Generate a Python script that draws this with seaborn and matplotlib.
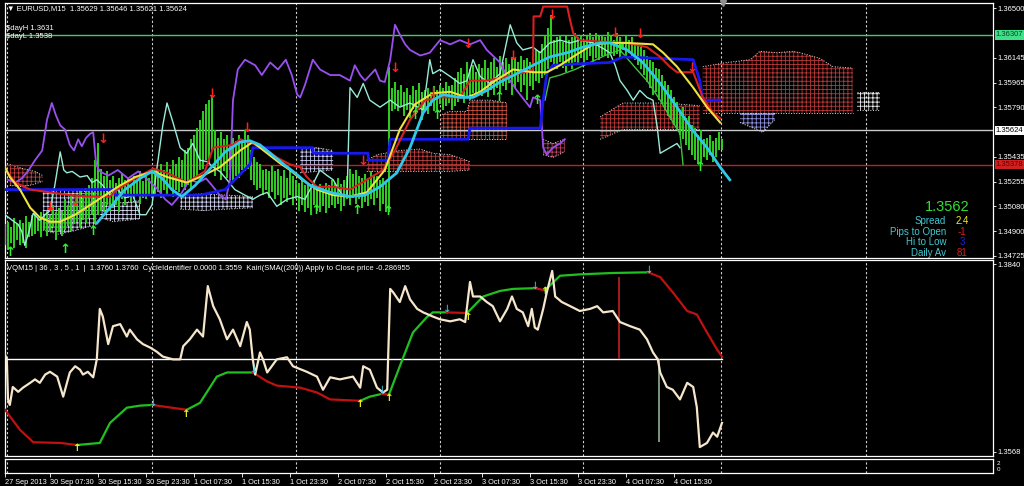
import numpy as np
import matplotlib
matplotlib.use("Agg")
import matplotlib.pyplot as plt
import seaborn as sns

W, H = 1024, 486

# x axis = hours since 30 Sep 2013 00:00 (M15 chart, one bar every 15 min)
tick_hours = [0, 7.5, 15.5, 23.5, 31.5, 39.5, 47.5, 55.5, 63.5, 71.5, 79.5, 87.5, 95.5, 103.5, 111.5]
tick_labels = ['27 Sep 2013', '30 Sep 07:30', '30 Sep 15:30', '30 Sep 23:30', '1 Oct 07:30',
               '1 Oct 15:30', '1 Oct 23:30', '2 Oct 07:30', '2 Oct 15:30', '2 Oct 23:30',
               '3 Oct 07:30', '3 Oct 15:30', '3 Oct 23:30', '4 Oct 07:30', '4 Oct 15:30']
grid_hours = [0.3, 24.5, 48.5, 72.5, 96.3, 119.3, 143.5]

# ---------------- main window: EURUSD price bars (every 2nd bar) ----------------
bar_hours = np.arange(240) * 0.5
bar_low = [1.3480, 1.3477, 1.3482, 1.3478, 1.3484, 1.3480, 1.3482, 1.3478, 1.3486, 1.3487,
           1.3488, 1.3490, 1.3486, 1.3491, 1.3487, 1.3490, 1.3493, 1.3484, 1.3490, 1.3487,
           1.3491, 1.3494, 1.3490, 1.3495, 1.3497, 1.3493, 1.3498, 1.3496, 1.3500, 1.3502,
           1.3495, 1.3502, 1.3505, 1.3504, 1.3509, 1.3505, 1.3507, 1.3509, 1.3504, 1.3513,
           1.3509, 1.3514, 1.3511, 1.3513, 1.3516, 1.3510, 1.3514, 1.3513, 1.3516, 1.3514,
           1.3516, 1.3518, 1.3514, 1.3520, 1.3517, 1.3521, 1.3515, 1.3520, 1.3518, 1.3522,
           1.3520, 1.3523, 1.3521, 1.3527, 1.3530, 1.3534, 1.3535, 1.3541, 1.3538, 1.3548,
           1.3530, 1.3535, 1.3527, 1.3533, 1.3528, 1.3534, 1.3525, 1.3530, 1.3528, 1.3534,
           1.3533, 1.3535, 1.3527, 1.3523, 1.3520, 1.3521, 1.3516, 1.3520, 1.3514, 1.3518,
           1.3513, 1.3516, 1.3509, 1.3514, 1.3511, 1.3516, 1.3509, 1.3513, 1.3505, 1.3509,
           1.3504, 1.3507, 1.3502, 1.3509, 1.3505, 1.3504, 1.3508, 1.3503, 1.3507, 1.3509,
           1.3507, 1.3510, 1.3505, 1.3508, 1.3513, 1.3509, 1.3514, 1.3510, 1.3513, 1.3507,
           1.3511, 1.3508, 1.3513, 1.3509, 1.3514, 1.3505, 1.3510, 1.3504, 1.3504, 1.3576,
           1.3578, 1.3576, 1.3580, 1.3573, 1.3577, 1.3571, 1.3578, 1.3574, 1.3577, 1.3570,
           1.3577, 1.3574, 1.3580, 1.3576, 1.3577, 1.3581, 1.3577, 1.3580, 1.3582, 1.3577,
           1.3580, 1.3583, 1.3586, 1.3582, 1.3587, 1.3584, 1.3589, 1.3586, 1.3590, 1.3587,
           1.3590, 1.3586, 1.3591, 1.3588, 1.3593, 1.3590, 1.3594, 1.3591, 1.3596, 1.3588,
           1.3593, 1.3597, 1.3590, 1.3595, 1.3584, 1.3594, 1.3591, 1.3598, 1.3596, 1.3600,
           1.3602, 1.3606, 1.3611, 1.3609, 1.3606, 1.3611, 1.3607, 1.3604, 1.3610, 1.3606,
           1.3611, 1.3609, 1.3614, 1.3610, 1.3613, 1.3616, 1.3611, 1.3614, 1.3613, 1.3616,
           1.3616, 1.3614, 1.3618, 1.3616, 1.3617, 1.3614, 1.3620, 1.3616, 1.3618, 1.3614,
           1.3613, 1.3609, 1.3606, 1.3602, 1.3597, 1.3593, 1.3588, 1.3590, 1.3584, 1.3581,
           1.3577, 1.3573, 1.3570, 1.3566, 1.3563, 1.3559, 1.3556, 1.3552, 1.3548, 1.3545,
           1.3541, 1.3538, 1.3540, 1.3543, 1.3541, 1.3545, 1.3540, 1.3543, 1.3548, 1.3548]
bar_high = [1.3495, 1.3497, 1.3493, 1.3500, 1.3495, 1.3498, 1.3496, 1.3501, 1.3497, 1.3502,
            1.3503, 1.3500, 1.3504, 1.3502, 1.3505, 1.3502, 1.3509, 1.3504, 1.3507, 1.3505,
            1.3513, 1.3509, 1.3516, 1.3511, 1.3516, 1.3520, 1.3514, 1.3521, 1.3523, 1.3528,
            1.3541, 1.3553, 1.3535, 1.3530, 1.3533, 1.3527, 1.3530, 1.3525, 1.3528, 1.3531,
            1.3527, 1.3528, 1.3524, 1.3530, 1.3527, 1.3533, 1.3526, 1.3530, 1.3528, 1.3534,
            1.3535, 1.3533, 1.3538, 1.3534, 1.3540, 1.3535, 1.3541, 1.3538, 1.3543, 1.3541,
            1.3548, 1.3550, 1.3556, 1.3559, 1.3564, 1.3570, 1.3576, 1.3581, 1.3584, 1.3588,
            1.3563, 1.3557, 1.3561, 1.3556, 1.3559, 1.3552, 1.3557, 1.3555, 1.3559, 1.3556,
            1.3563, 1.3559, 1.3548, 1.3543, 1.3540, 1.3538, 1.3534, 1.3535, 1.3533, 1.3537,
            1.3533, 1.3535, 1.3530, 1.3534, 1.3528, 1.3533, 1.3530, 1.3527, 1.3525, 1.3528,
            1.3523, 1.3525, 1.3521, 1.3527, 1.3522, 1.3524, 1.3521, 1.3525, 1.3523, 1.3527,
            1.3525, 1.3528, 1.3524, 1.3527, 1.3530, 1.3535, 1.3531, 1.3534, 1.3530, 1.3528,
            1.3531, 1.3528, 1.3533, 1.3530, 1.3530, 1.3527, 1.3528, 1.3525, 1.3608, 1.3593,
            1.3597, 1.3591, 1.3595, 1.3590, 1.3593, 1.3588, 1.3594, 1.3591, 1.3596, 1.3590,
            1.3591, 1.3593, 1.3590, 1.3594, 1.3591, 1.3595, 1.3593, 1.3597, 1.3594, 1.3595,
            1.3600, 1.3604, 1.3607, 1.3603, 1.3611, 1.3606, 1.3609, 1.3604, 1.3610, 1.3607,
            1.3613, 1.3607, 1.3611, 1.3614, 1.3608, 1.3616, 1.3611, 1.3614, 1.3610, 1.3615,
            1.3614, 1.3611, 1.3616, 1.3613, 1.3614, 1.3611, 1.3616, 1.3620, 1.3619, 1.3624,
            1.3631, 1.3636, 1.3645, 1.3627, 1.3629, 1.3631, 1.3626, 1.3630, 1.3627, 1.3629,
            1.3632, 1.3629, 1.3631, 1.3627, 1.3630, 1.3632, 1.3629, 1.3632, 1.3630, 1.3631,
            1.3629, 1.3633, 1.3630, 1.3627, 1.3632, 1.3629, 1.3626, 1.3630, 1.3627, 1.3629,
            1.3625, 1.3623, 1.3622, 1.3620, 1.3616, 1.3613, 1.3611, 1.3607, 1.3606, 1.3602,
            1.3598, 1.3595, 1.3591, 1.3586, 1.3583, 1.3577, 1.3579, 1.3571, 1.3573, 1.3566,
            1.3564, 1.3559, 1.3563, 1.3556, 1.3557, 1.3559, 1.3555, 1.3557, 1.3561, 1.3556]

purple_h = [0.5, 1.7, 2.8, 3.8, 5.0, 6.2, 7.0, 7.8, 8.5, 9.2, 10.0, 10.8, 11.5, 12.2, 12.8, 13.5, 14.2,
            14.7, 15.2, 15.8, 17.2, 18.8, 20.5, 22.2, 23.8, 25.5, 26.7, 27.8, 29.2, 30.8, 32.2, 33.5,
            34.5, 35.8, 36.8, 37.5, 38.0, 38.8, 40.0, 41.7, 42.8, 44.2, 45.5, 46.8, 47.8, 48.7, 49.2,
            50.0, 51.3, 52.5, 54.2, 55.8, 57.5, 58.3, 59.2, 60.0, 61.7, 62.5, 63.3, 64.2, 65.0, 65.8,
            66.7, 67.5, 69.2, 70.8, 72.5, 74.2, 75.8, 77.5, 79.2, 80.3, 82.5, 83.7, 85.3, 87.5, 88.0,
            89.2, 89.7, 90.3, 91.3, 92.5, 93.3]
purple_p = [1.3527, 1.3525, 1.3528, 1.3533, 1.3541, 1.3548, 1.3570, 1.3582, 1.3573, 1.3566, 1.3563,
            1.3552, 1.3548, 1.3556, 1.3551, 1.3557, 1.3560, 1.3561, 1.3538, 1.3533, 1.3530, 1.3534,
            1.3528, 1.3533, 1.3527, 1.3520, 1.3513, 1.3509, 1.3516, 1.3527, 1.3525, 1.3528, 1.3523,
            1.3516, 1.3513, 1.3527, 1.3584, 1.3606, 1.3613, 1.3609, 1.3602, 1.3611, 1.3606, 1.3613,
            1.3602, 1.3588, 1.3586, 1.3595, 1.3613, 1.3606, 1.3602, 1.3602, 1.3598, 1.3609, 1.3602,
            1.3598, 1.3606, 1.3598, 1.3597, 1.3613, 1.3638, 1.3631, 1.3624, 1.3620, 1.3616, 1.3618,
            1.3627, 1.3624, 1.3627, 1.3624, 1.3627, 1.3620, 1.3611, 1.3601, 1.3591, 1.3579, 1.3586,
            1.3584, 1.3550, 1.3545, 1.3550, 1.3553, 1.3556]

aqua_h = [0.0, 1.2, 2.2, 2.8, 3.3, 4.0, 4.7, 5.8, 6.7, 7.5, 8.3, 9.2, 9.8, 10.3, 11.2, 12.5, 13.7, 14.5,
          15.3, 16.3, 17.5, 18.8, 20.0, 21.3, 22.5, 23.5, 24.5, 25.5, 26.3, 27.0, 28.0, 29.2, 30.3, 31.3,
          32.5, 33.7, 34.7, 35.8, 37.0, 38.3, 40.0, 41.3, 42.5, 43.7, 44.5, 45.3, 47.0, 48.7, 50.0, 51.2,
          52.5, 53.7, 54.7, 56.3, 57.0, 57.5, 58.7, 59.7, 60.8, 62.5, 64.2, 65.8, 67.5, 69.7, 70.8, 71.3,
          72.5, 74.2, 75.8, 77.0, 78.0, 79.2, 80.8, 82.5, 84.2, 85.3, 86.3, 88.0, 89.2, 90.8, 92.5, 94.2,
          95.8, 98.0, 99.7, 100.8, 101.7, 102.5, 103.7, 104.7, 105.8, 107.0, 108.0, 108.7, 109.2, 110.0,
          110.8, 112.0, 112.5]
aqua_p = [1.3502, 1.3498, 1.3495, 1.3490, 1.3480, 1.3490, 1.3503, 1.3498, 1.3502, 1.3505, 1.3523,
          1.3547, 1.3534, 1.3532, 1.3533, 1.3529, 1.3530, 1.3525, 1.3527, 1.3523, 1.3516, 1.3520,
          1.3514, 1.3516, 1.3502, 1.3502, 1.3509, 1.3541, 1.3566, 1.3582, 1.3568, 1.3550, 1.3546,
          1.3553, 1.3541, 1.3540, 1.3536, 1.3533, 1.3527, 1.3520, 1.3516, 1.3513, 1.3516, 1.3518,
          1.3513, 1.3508, 1.3513, 1.3515, 1.3513, 1.3523, 1.3534, 1.3530, 1.3527, 1.3515, 1.3515,
          1.3593, 1.3586, 1.3596, 1.3584, 1.3579, 1.3584, 1.3579, 1.3582, 1.3577, 1.3613, 1.3603,
          1.3606, 1.3601, 1.3596, 1.3598, 1.3613, 1.3601, 1.3596, 1.3603, 1.3638, 1.3625, 1.3620,
          1.3622, 1.3618, 1.3625, 1.3627, 1.3625, 1.3627, 1.3625, 1.3621, 1.3618, 1.3609, 1.3598,
          1.3591, 1.3584, 1.3591, 1.3586, 1.3584, 1.3565, 1.3546, 1.3548, 1.3550, 1.3553, 1.3550]

cyan_h = [15.3, 17.5, 20.0, 22.5, 24.5, 26.2, 27.8, 29.5, 31.7, 34.2, 36.7, 39.2, 40.8, 42.5, 44.2,
          46.2, 48.3, 50.8, 54.2, 57.5, 60.0, 62.5, 65.3, 67.5, 69.7, 71.3, 73.0, 75.8, 78.0, 80.3,
          82.5, 85.3, 88.0, 90.8, 93.7, 96.3, 99.2, 100.8, 103.7, 106.3, 109.2, 112.0, 114.7, 117.0,
          119.2, 120.8]
cyan_p = [1.3496, 1.3507, 1.3520, 1.3528, 1.3533, 1.3528, 1.3520, 1.3515, 1.3523, 1.3535, 1.3547,
          1.3554, 1.3555, 1.3552, 1.3546, 1.3539, 1.3532, 1.3523, 1.3518, 1.3515, 1.3516, 1.3522,
          1.3532, 1.3550, 1.3575, 1.3584, 1.3588, 1.3586, 1.3586, 1.3591, 1.3597, 1.3603, 1.3609,
          1.3615, 1.3618, 1.3622, 1.3625, 1.3625, 1.3620, 1.3611, 1.3596, 1.3579, 1.3562, 1.3550,
          1.3536, 1.3527]

yellow_h = [0.0, 0.8, 2.5, 4.2, 5.8, 7.5, 9.2, 11.7, 14.2, 16.7, 19.2, 21.7, 24.7, 27.0, 30.3, 32.5,
            35.8, 39.2, 41.3, 43.7, 45.8, 47.5, 49.2, 52.0, 54.7, 57.5, 60.3, 63.3, 65.8, 68.3, 71.3,
            74.2, 77.0, 79.2, 81.7, 84.7, 88.0, 90.3, 92.5, 95.0, 98.0, 100.8, 103.7, 108.0, 109.7,
            112.0, 114.7, 117.0, 119.2]
yellow_p = [1.3536, 1.3529, 1.3520, 1.3507, 1.3500, 1.3497, 1.3497, 1.3502, 1.3509, 1.3516, 1.3523,
            1.3529, 1.3533, 1.3529, 1.3525, 1.3529, 1.3536, 1.3548, 1.3554, 1.3546, 1.3539, 1.3534,
            1.3528, 1.3520, 1.3516, 1.3515, 1.3518, 1.3534, 1.3563, 1.3581, 1.3589, 1.3590, 1.3586,
            1.3590, 1.3598, 1.3606, 1.3604, 1.3604, 1.3609, 1.3616, 1.3624, 1.3625, 1.3625, 1.3624,
            1.3618, 1.3608, 1.3593, 1.3579, 1.3568]

red_h = [0.0, 1.7, 4.2, 7.5, 10.8, 14.2, 17.5, 18.7, 21.7, 24.7, 27.0, 30.3, 33.3, 34.7, 38.0, 39.2,
         41.3, 43.7, 45.3, 47.5, 49.2, 50.3, 52.0, 54.7, 57.5, 60.3, 63.0, 65.0, 67.5, 70.0, 72.5, 75.8,
         77.5, 80.3, 83.7, 86.7, 88.0, 88.1, 89.2, 89.7, 93.7, 94.2, 94.7, 95.8, 99.2, 103.7, 107.0,
         109.2, 110.8, 112.0, 114.7, 116.3, 118.0, 119.2]
red_p = [1.3535, 1.3525, 1.3520, 1.3518, 1.3516, 1.3515, 1.3515, 1.3520, 1.3528, 1.3535, 1.3532,
         1.3525, 1.3533, 1.3550, 1.3552, 1.3556, 1.3553, 1.3548, 1.3543, 1.3538, 1.3536, 1.3529,
         1.3522, 1.3522, 1.3520, 1.3527, 1.3534, 1.3548, 1.3570, 1.3584, 1.3586, 1.3586, 1.3598,
         1.3598, 1.3601, 1.3604, 1.3606, 1.3644, 1.3644, 1.3651, 1.3651, 1.3641, 1.3632, 1.3627,
         1.3626, 1.3625, 1.3622, 1.3615, 1.3608, 1.3604, 1.3604, 1.3586, 1.3575, 1.3571]

blue_h = [0.0, 18.3, 18.4, 32.5, 36.7, 40.8, 41.3, 51.3, 51.4, 60.5, 60.6, 63.8, 64.2, 77.2, 77.5, 89.2,
          89.7, 90.3, 91.3, 95.3, 100.8, 103.0, 114.7, 115.8, 116.3, 119.2]
blue_p = [1.3520, 1.3520, 1.3516, 1.3516, 1.3520, 1.3538, 1.3550, 1.3550, 1.3546, 1.3546, 1.3541,
          1.3541, 1.3556, 1.3556, 1.3564, 1.3564, 1.3584, 1.3603, 1.3609, 1.3610, 1.3611, 1.3615,
          1.3613, 1.3598, 1.3584, 1.3584]

lime_h = [90.0, 90.8, 92.5, 95.0, 97.5, 100.0, 102.5, 105.3, 107.0, 109.2, 110.8, 112.5, 113.0]
lime_p = [1.3584, 1.3600, 1.3602, 1.3606, 1.3611, 1.3616, 1.3620, 1.3606, 1.3598, 1.3584, 1.3572,
          1.3560, 1.3538]

# ichimoku cloud pieces: hours, span top, span bottom
kumo_a_h = [0.8, 3.0, 5.0, 6.3]
kumo_a_top = [1.3538, 1.3535, 1.3533, 1.3530]
kumo_a_bot = [1.3523, 1.3522, 1.3524, 1.3526]
kumo_b_h = [6.3, 9.0, 12.0, 15.3]
kumo_b_top = [1.3520, 1.3520, 1.3519, 1.3518]
kumo_b_bot = [1.3491, 1.3488, 1.3491, 1.3495]
kumo_c_h = [15.8, 18.0, 22.5]
kumo_c_top = [1.3511, 1.3510, 1.3512]
kumo_c_bot = [1.3500, 1.3497, 1.3499]
kumo_d_h = [29.2, 33.0, 37.0, 41.3]
kumo_d_top = [1.3516, 1.3517, 1.3516, 1.3515]
kumo_d_bot = [1.3506, 1.3505, 1.3506, 1.3507]
kumo_e_h = [49.2, 52.0, 54.7]
kumo_e_top = [1.3550, 1.3550, 1.3548]
kumo_e_bot = [1.3532, 1.3533, 1.3534]
kumo_f_h = [60.3, 62.0, 65.8, 69.2, 71.3, 74.2, 77.5]
kumo_f_top = [1.3541, 1.3545, 1.3548, 1.3549, 1.3546, 1.3545, 1.3540]
kumo_f_bot = [1.3533, 1.3533, 1.3533, 1.3533, 1.3533, 1.3533, 1.3534]
kumo_g_h = [72.5, 74.0, 77.0, 77.5, 81.0, 83.7]
kumo_g_top = [1.3573, 1.3576, 1.3576, 1.3584, 1.3584, 1.3582]
kumo_g_bot = [1.3556, 1.3556, 1.3556, 1.3556, 1.3556, 1.3556]
kumo_h_h = [89.7, 91.3, 93.3]
kumo_h_top = [1.3556, 1.3553, 1.3556]
kumo_h_bot = [1.3545, 1.3543, 1.3547]
kumo_i_h = [99.2, 103.0, 110.0, 115.8]
kumo_i_top = [1.3572, 1.3582, 1.3582, 1.3580]
kumo_i_bot = [1.3556, 1.3563, 1.3563, 1.3563]
kumo_k_h = [116.3, 120.3, 124.2, 125.8, 128.7, 131.3, 132.5, 135.8, 138.0, 141.3]
kumo_k_top = [1.3608, 1.3611, 1.3613, 1.3619, 1.3618, 1.3619, 1.3618, 1.3614, 1.3608, 1.3607]
kumo_k_bot = [1.3575, 1.3575, 1.3575, 1.3575, 1.3575, 1.3575, 1.3575, 1.3575, 1.3575, 1.3575]
kumo_l_h = [142.0, 145.8]
kumo_l_top = [1.3590, 1.3590]
kumo_l_bot = [1.3577, 1.3577]
kumo_m_h = [122.5, 126.3, 128.3]
kumo_m_top = [1.3575, 1.3575, 1.3575]
kumo_m_bot = [1.3568, 1.3561, 1.3570]

sell_h = [7.5, 11.7, 16.3, 34.5, 40.3, 59.7, 65.0, 71.3, 77.2, 84.7, 91.2, 101.7, 105.8, 114.5]
sell_p = [1.3507, 1.3511, 1.3556, 1.3588, 1.3564, 1.3540, 1.3607, 1.3589, 1.3624, 1.3615, 1.3645,
          1.3632, 1.3631, 1.3607]
buy_h = [0.8, 10.0, 14.7, 51.8, 58.7, 63.8, 68.3, 72.0, 82.3, 88.7, 102.5, 115.8]
buy_p = [1.3475, 1.3477, 1.3490, 1.3505, 1.3505, 1.3504, 1.3573, 1.3573, 1.3586, 1.3584, 1.3620, 1.3536]

day_high_line = 1.36307
bid_line = 1.35624
day_low_line = 1.35378
price_ticks = [1.36500, 1.36145, 1.35965, 1.35790, 1.35435, 1.35255, 1.35080, 1.34900, 1.34725]

# ---------------- sub window: VQ / CycleIdentifier ----------------
vq_h = [0.0, 0.3, 0.5, 0.8, 1.3, 2.2, 3.0, 4.2, 5.0, 5.8, 6.7, 7.5, 8.7, 9.7, 10.8, 11.7, 12.5, 13.0,
        13.8, 14.7, 15.3, 15.8, 16.3, 17.2, 18.0, 19.2, 20.3, 20.8, 22.0, 23.0, 24.2, 25.3, 26.3, 28.0,
        29.2, 29.7, 30.8, 32.0, 33.0, 33.8, 34.7, 35.8, 37.0, 38.0, 39.2, 40.3, 40.8, 41.3, 41.7, 42.5,
        43.0, 43.7, 45.3, 47.0, 48.0, 50.3, 52.0, 53.0, 54.2, 55.8, 58.0, 59.2, 59.7, 60.8, 62.0, 63.0,
        63.7, 64.2, 64.7, 65.8, 66.7, 67.5, 68.7, 69.7, 71.3, 72.5, 74.2, 75.8, 76.7, 77.5, 78.0, 79.2,
        80.3, 81.3, 82.5, 83.7, 84.5, 85.3, 86.3, 87.2, 87.8, 88.3, 88.8, 89.7, 90.3, 91.2, 91.7, 92.8,
        94.2, 95.8, 97.5, 98.7, 99.7, 101.3, 102.5, 104.2, 105.8, 107.0, 108.0, 108.8, 109.2, 110.3,
        111.3, 112.5, 113.7, 114.7, 115.3, 115.8, 117.0, 118.0, 118.7, 119.5]
vq_v = [1.3709, 1.3702, 1.3644, 1.3636, 1.3662, 1.3655, 1.3661, 1.3668, 1.3673, 1.3668, 1.3680,
        1.3684, 1.3677, 1.3648, 1.3683, 1.3692, 1.3687, 1.3680, 1.3684, 1.3676, 1.3702, 1.3775,
        1.3764, 1.3724, 1.3750, 1.3753, 1.3735, 1.3745, 1.3731, 1.3724, 1.3719, 1.3713, 1.3706,
        1.3702, 1.3702, 1.3721, 1.3731, 1.3745, 1.3735, 1.3808, 1.3779, 1.3760, 1.3731, 1.3745,
        1.3721, 1.3756, 1.3745, 1.3702, 1.3680, 1.3712, 1.3702, 1.3683, 1.3702, 1.3705, 1.3692,
        1.3684, 1.3677, 1.3658, 1.3676, 1.3673, 1.3677, 1.3661, 1.3692, 1.3687, 1.3661, 1.3654,
        1.3658, 1.3804, 1.3799, 1.3785, 1.3808, 1.3789, 1.3775, 1.3770, 1.3764, 1.3760, 1.3757,
        1.3760, 1.3756, 1.3814, 1.3793, 1.3793, 1.3785, 1.3779, 1.3757, 1.3775, 1.3793, 1.3775,
        1.3770, 1.3750, 1.3775, 1.3748, 1.3745, 1.3775, 1.3799, 1.3830, 1.3793, 1.3785, 1.3779,
        1.3772, 1.3775, 1.3779, 1.3770, 1.3772, 1.3756, 1.3750, 1.3745, 1.3731, 1.3712, 1.3702,
        1.3683, 1.3662, 1.3658, 1.3644, 1.3668, 1.3662, 1.3633, 1.3575, 1.3581, 1.3596, 1.3590,
        1.3610]

cycle_h = [0.0, 2.5, 4.7, 9.2, 12.0, 15.8, 17.5, 20.3, 22.5, 24.5, 30.3, 32.5, 35.3, 37.0, 41.3, 43.7,
           45.3, 49.2, 52.0, 54.2, 59.2, 60.8, 62.8, 64.0, 65.8, 68.0, 70.3, 71.3, 73.7, 77.0, 79.7,
           82.5, 84.7, 88.3, 90.0, 92.5, 95.8, 101.3, 107.2, 109.2, 111.3, 113.7, 115.3, 117.0, 118.7,
           119.5]
cycle_v = [1.3629, 1.3600, 1.3582, 1.3581, 1.3578, 1.3581, 1.3610, 1.3632, 1.3635, 1.3636, 1.3629,
           1.3639, 1.3677, 1.3683, 1.3683, 1.3670, 1.3664, 1.3661, 1.3654, 1.3644, 1.3642, 1.3648,
           1.3652, 1.3651, 1.3692, 1.3741, 1.3763, 1.3770, 1.3770, 1.3769, 1.3793, 1.3801, 1.3804,
           1.3805, 1.3802, 1.3823, 1.3825, 1.3827, 1.3828, 1.3821, 1.3799, 1.3772, 1.3767, 1.3741,
           1.3716, 1.3706]
cycle_up = [0, 0, 0, 0, 1, 1, 1, 1, 1, 0, 1, 1, 1, 1, 0, 0, 0, 0, 0, 0, 1, 1, 0, 1, 1, 1, 1, 1, 0,
            1, 1, 1, 1, 0, 1, 1, 1, 1, 0, 0, 0, 0, 0, 0, 0, 0]

hist_h = [102.3, 109.0]
hist_top = [1.3821, 1.3703]
hist_bot = [1.3703, 1.3582]
vq_level = 1.3703

sig_dn_h = [24.7, 41.5, 62.8, 73.7, 88.3, 107.3]
sig_dn_v = [1.3639, 1.3687, 1.3658, 1.3775, 1.3808, 1.3831]
sig_up_h = [12.0, 30.3, 59.3, 64.0, 77.2, 90.0]
sig_up_v = [1.3574, 1.3623, 1.3638, 1.3646, 1.3764, 1.3801]

# ---------------- figure ----------------
plt.rcParams['font.family'] = ['Liberation Sans', 'DejaVu Sans']
plt.rcParams['hatch.linewidth'] = 0.6

fig = plt.figure(figsize=(W / 100, H / 100), dpi=100, facecolor='black')


def px_axes(x0, y0, x1, y1):
    return fig.add_axes([x0 / W, 1 - y1 / H, (x1 - x0) / W, (y1 - y0) / H])


ax1 = px_axes(5, 3, 993, 258)
ax2 = px_axes(5, 260, 993, 456)
ax3 = px_axes(5, 459, 993, 473)

for ax in (ax1, ax2, ax3):
    ax.set_facecolor('black')
    ax.set_xlim(0, 164.67)
    for s in ax.spines.values():
        s.set_color('white')
        s.set_linewidth(0.9)
    for g in grid_hours:
        ax.axvline(g, color='#d0d0d0', lw=0.8, ls=(0, (2, 2)), zorder=1)
    ax.yaxis.tick_right()
    ax.tick_params(axis='y', colors='white', labelsize=5.5, length=2, width=0.6, pad=1)
    ax.tick_params(axis='x', bottom=False, labelbottom=False)

ax1.set_ylim(1.34710, 1.36536)
ax2.set_ylim(1.35621, 1.38458)

# clouds
clouds = [(kumo_a_h, kumo_a_top, kumo_a_bot, '#c04040'),
          (kumo_b_h, kumo_b_top, kumo_b_bot, '#c8c8f0'),
          (kumo_c_h, kumo_c_top, kumo_c_bot, '#d8d8f0'),
          (kumo_d_h, kumo_d_top, kumo_d_bot, '#d0d0f0'),
          (kumo_e_h, kumo_e_top, kumo_e_bot, '#c8c8f0'),
          (kumo_f_h, kumo_f_top, kumo_f_bot, '#b84040'),
          (kumo_g_h, kumo_g_top, kumo_g_bot, '#c85040'),
          (kumo_h_h, kumo_h_top, kumo_h_bot, '#b84060'),
          (kumo_i_h, kumo_i_top, kumo_i_bot, '#b83838'),
          (kumo_k_h, kumo_k_top, kumo_k_bot, '#b83838'),
          (kumo_l_h, kumo_l_top, kumo_l_bot, '#e8e8e8'),
          (kumo_m_h, kumo_m_top, kumo_m_bot, '#9090e0')]
for ch, ct, cb, col in clouds:
    ax1.fill_between(ch, cb, ct, facecolor='none', edgecolor=col, hatch='++++', linewidth=0, zorder=2)
    ax1.plot(ch, ct, color='#e0e0e0', lw=0.7, ls=':', zorder=2)
    ax1.plot(ch, cb, color='#e0e0e0', lw=0.7, ls=':', zorder=2)

ax1.axhline(day_high_line, color='#40d060', lw=1, zorder=2)
ax1.axhline(bid_line, color='#c8c8c8', lw=1, zorder=2)
ax1.axhline(day_low_line, color='#c02020', lw=1, zorder=2)

ax1.vlines(bar_hours, bar_low, bar_high, color='#30d020', lw=1.4, zorder=3)

sns.lineplot(x=aqua_h, y=aqua_p, ax=ax1, color='#98ecd8', lw=1, sort=False, estimator=None, legend=False, zorder=4)
sns.lineplot(x=purple_h, y=purple_p, ax=ax1, color='#9a50f0', lw=1.3, sort=False, estimator=None, legend=False, zorder=4)
sns.lineplot(x=lime_h, y=lime_p, ax=ax1, color='#40c040', lw=1, sort=False, estimator=None, legend=False, zorder=4)
sns.lineplot(x=blue_h, y=blue_p, ax=ax1, color='#1818f0', lw=2, sort=False, estimator=None, legend=False, zorder=5)
sns.lineplot(x=red_h, y=red_p, ax=ax1, color='#d82020', lw=1.5, sort=False, estimator=None, legend=False, zorder=5)
sns.lineplot(x=yellow_h, y=yellow_p, ax=ax1, color='#f0e040', lw=1.5, sort=False, estimator=None, legend=False, zorder=6)
sns.lineplot(x=cyan_h, y=cyan_p, ax=ax1, color='#30c8e8', lw=2, sort=False, estimator=None, legend=False, zorder=6)

for hx, py in zip(sell_h, sell_p):
    ax1.text(hx, py, '↓', color='#ff2020', fontsize=9.5, fontweight='bold', family='DejaVu Sans',
             ha='center', va='center', zorder=7)
for hx, py in zip(buy_h, buy_p):
    ax1.text(hx, py, '↑', color='#30f030', fontsize=9.5, fontweight='bold', family='DejaVu Sans',
             ha='center', va='center', zorder=7)

ax1.set_yticks(price_ticks)
ax1.set_yticklabels([f'{v:.5f}' for v in price_ticks])
yt = ax1.get_yaxis_transform()
for val, fc, tc in [(day_high_line, '#40e088', '#0a4020'), (bid_line, 'white', 'black'),
                    (day_low_line, '#d02020', '#600000')]:
    ax1.text(1.003, val, f'{val:.5f}', transform=yt, ha='left', va='center', fontsize=5.5, color=tc,
             bbox=dict(boxstyle='square,pad=0.15', fc=fc, ec='none'), clip_on=False)
ax1.plot([119.7], [1.0], marker='v', color='#909090', ms=4, transform=ax1.get_xaxis_transform(),
         clip_on=False, zorder=8)

# sub window
ax2.axhline(vq_level, xmax=119.5 / 164.67, color='white', lw=1, zorder=2)
ax2.vlines(hist_h[0], hist_bot[0], hist_top[0], color='#c02020', lw=1.2, zorder=3)
ax2.vlines(hist_h[1], hist_bot[1], hist_top[1], color='#90b090', lw=1.2, zorder=3)
start = 0
for i in range(1, len(cycle_h)):
    if i == len(cycle_h) - 1 or cycle_up[i] != cycle_up[start]:
        col = '#20c020' if cycle_up[start] else '#c01010'
        sns.lineplot(x=cycle_h[start:i + 1], y=cycle_v[start:i + 1], ax=ax2, color=col, lw=1.6,
                     sort=False, estimator=None, legend=False, zorder=4)
        start = i
sns.lineplot(x=vq_h, y=vq_v, ax=ax2, color='#f5e6cc', lw=1.6, sort=False, estimator=None, legend=False, zorder=5)
for hx, v in zip(sig_dn_h, sig_dn_v):
    ax2.text(hx, v, '↓', color='#40d0e8', fontsize=7.5, family='DejaVu Sans', ha='center', va='center', zorder=6)
for hx, v in zip(sig_up_h, sig_up_v):
    ax2.text(hx, v, '↑', color='#f0f020', fontsize=7.5, fontweight='bold', family='DejaVu Sans',
             ha='center', va='center', zorder=6)
ax2.set_yticks([1.3840, 1.3568])
ax2.set_yticklabels(['1.3840', '1.3568'])

# bottom small window with time axis
ax3.set_ylim(0, 1)
ax3.set_yticks([])
ax3.set_xticks(tick_hours)
ax3.set_xticklabels(tick_labels)
ax3.tick_params(axis='x', bottom=True, labelbottom=True, colors='white', labelsize=5.3, length=3,
                width=0.6, pad=1.5)
for lab in ax3.get_xticklabels():
    lab.set_ha('left')

# texts
fig.text(7 / W, 1 - 9 / H, '▼ EURUSD,M15  1.35629 1.35646 1.35621 1.35624', color='white',
         fontsize=5.5, va='center', ha='left')
fig.text(6 / W, 1 - 28 / H, '$dayH 1.3631', color='white', fontsize=5.5, va='center')
fig.text(6 / W, 1 - 37 / H, '$dayL 1.3538', color='white', fontsize=5.5, va='center')
fig.text(7 / W, 1 - 268 / H,
         'VQM15 | 36 , 3 , 5 , 1  |  1.3760 1.3760  CycleIdentifier 0.0000 1.3559  '
         'Kairi(SMA((200)) Apply to Close price -0.286955', color='white', fontsize=5.5, va='center')
fig.text(997 / W, 1 - 463 / H, '2', color='white', fontsize=4.5, va='center')
fig.text(997 / W, 1 - 469 / H, '0', color='white', fontsize=4.5, va='center')

fig.text(969 / W, 1 - 207 / H, '1.3562', color='#30e030', fontsize=10.5, ha='right', va='center')
info_rows = ['Spread', 'Pips to Open', 'Hi to Low', 'Daily Av']
info_vals = ['2.4', '-1', '3', '81']
info_cols = ['#f0f020', '#e02020', '#2020e0', '#d02020']
info_y = [221, 232, 242, 253]
for lab, val, col, yy in zip(info_rows, info_vals, info_cols, info_y):
    fig.text(946 / W, 1 - yy / H, lab, color='#40c8d0', fontsize=7, ha='right', va='center')
    fig.text(962 / W, 1 - yy / H, val, color=col, fontsize=7, ha='center', va='center')

fig.savefig('out.png', dpi=100, facecolor='black')
